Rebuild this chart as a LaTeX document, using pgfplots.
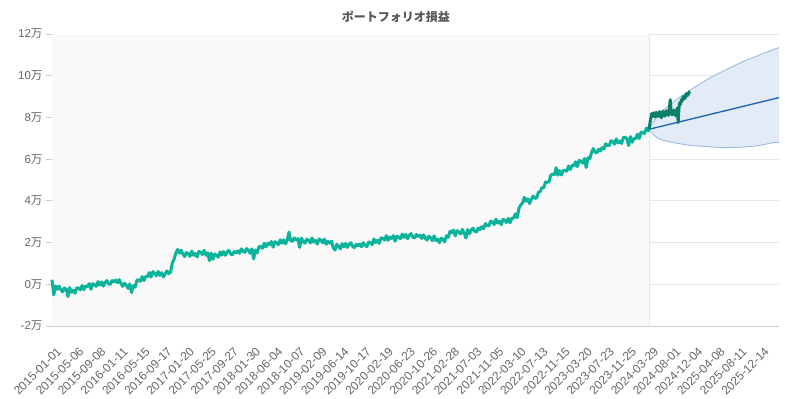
\documentclass[border=0pt]{standalone}
\usepackage{pgfplots}
\pgfplotsset{compat=1.18}
\usepackage{pgfplotstable}
\usepackage{fontspec}
\setmainfont{Liberation Sans}
\newfontfamily\cjk{Noto Sans CJK JP}
\newcommand\man{{\cjk 万}}
\definecolor{histc}{HTML}{0CB39B}
\definecolor{realc}{HTML}{0B8068}
\definecolor{meanc}{HTML}{1A62B3}
\definecolor{bandf}{HTML}{E3EBF6}
\definecolor{bande}{HTML}{9ABCE0}
\definecolor{gridc}{HTML}{E6E6E6}
\definecolor{axc}{HTML}{CCCCCC}
\definecolor{txt}{HTML}{666666}
\definecolor{bgc}{HTML}{F9F9F9}

\pgfplotstableread{
x y
0 0.22
10 -0.51
20 -0.08
30 -0.24
40 -0.09
50 -0.26
60 -0.36
70 -0.18
80 -0.24
90 -0.59
100 -0.16
110 -0.38
120 -0.28
130 -0.43
140 -0.17
150 -0.18
160 -0.27
170 -0.06
180 -0.26
190 -0.08
200 -0.12
210 0.03
220 -0.24
230 0.03
240 -0.02
250 -0.10
260 0.13
270 -0.04
280 0.11
290 -0.09
300 0.09
310 0.18
320 0.02
330 0.00
340 0.18
350 0.11
360 0.20
370 0.08
380 0.22
390 0.03
400 -0.10
410 0.05
420 -0.04
430 -0.20
440 0.02
450 -0.40
460 -0.06
470 -0.14
480 0.19
490 0.22
500 0.14
510 0.37
520 0.18
530 0.38
540 0.37
550 0.56
560 0.34
570 0.61
580 0.53
590 0.41
600 0.61
610 0.43
620 0.56
630 0.35
640 0.51
650 0.64
660 0.51
670 0.58
680 1.01
690 1.20
700 1.49
710 1.67
720 1.49
730 1.63
740 1.45
750 1.33
760 1.52
770 1.47
780 1.34
790 1.59
800 1.39
810 1.47
820 1.31
830 1.57
840 1.54
850 1.43
860 1.63
870 1.39
880 1.51
890 1.13
900 1.49
910 1.20
920 1.45
930 1.39
940 1.30
950 1.55
960 1.40
970 1.57
980 1.39
990 1.55
1000 1.62
1010 1.45
1020 1.41
1030 1.57
1040 1.50
1050 1.60
1060 1.49
1070 1.70
1080 1.58
1090 1.53
1100 1.71
1110 1.64
1120 1.49
1130 1.70
1140 1.22
1150 1.64
1160 1.51
1170 1.80
1180 1.81
1190 1.73
1200 1.97
1210 1.79
1220 1.97
1230 1.91
1240 2.05
1250 1.78
1260 2.04
1270 1.99
1280 1.90
1290 2.13
1300 1.97
1310 2.13
1320 1.94
1330 2.12
1340 2.51
1350 2.08
1360 2.06
1370 2.22
1380 2.12
1390 2.19
1400 1.77
1410 2.21
1420 2.06
1430 1.97
1440 2.16
1450 2.11
1460 1.98
1470 2.22
1480 2.02
1490 2.10
1500 1.93
1510 2.17
1520 2.12
1530 1.99
1540 2.16
1550 1.92
1560 2.06
1570 1.97
1580 2.07
1590 1.75
1600 1.64
1610 1.92
1620 1.82
1630 1.70
1640 1.95
1650 1.80
1660 1.96
1670 1.77
1680 1.92
1690 1.99
1700 1.81
1710 1.76
1720 1.92
1730 1.84
1740 1.93
1750 1.80
1760 1.99
1770 1.87
1780 1.80
1790 2.03
1800 2.00
1810 1.90
1820 2.17
1830 2.00
1840 2.11
1850 1.96
1860 2.23
1870 2.21
1880 2.12
1890 2.33
1900 2.11
1910 2.26
1920 2.20
1930 2.33
1940 2.06
1950 2.31
1960 2.26
1970 2.18
1980 2.41
1990 2.25
2000 2.39
2010 2.19
2020 2.35
2030 2.43
2040 2.26
2050 2.22
2060 2.39
2070 2.29
2080 2.35
2090 2.20
2100 2.37
2110 2.21
2120 2.12
2130 2.30
2140 2.24
2150 2.09
2160 2.32
2170 2.10
2180 2.17
2190 1.99
2200 2.21
2210 2.16
2220 2.03
2230 2.33
2240 2.25
2250 2.54
2260 2.47
2270 2.60
2280 2.32
2290 2.57
2300 2.51
2310 2.41
2320 2.63
2330 2.46
2340 2.22
2350 2.62
2360 2.42
2370 2.60
2380 2.69
2390 2.54
2400 2.51
2410 2.70
2420 2.63
2430 2.76
2440 2.67
2450 2.91
2460 2.82
2470 2.80
2480 3.03
2490 2.99
2500 2.87
2510 3.12
2520 2.93
2530 3.02
2540 2.86
2550 3.11
2560 3.08
2570 2.96
2580 3.16
2590 2.95
2600 3.17
2610 3.18
2620 3.38
2630 3.19
2640 3.65
2650 3.80
2660 3.90
2670 4.17
2680 3.98
2690 4.10
2700 3.87
2710 4.08
2720 4.23
2730 4.12
2740 4.14
2750 4.41
2760 4.44
2770 4.64
2780 4.62
2790 4.91
2800 4.89
2810 4.92
2820 5.23
2830 5.28
2840 5.25
2850 5.59
2860 5.23
2870 5.45
2880 5.24
2890 5.45
2900 5.47
2910 5.42
2920 5.67
2930 5.50
2940 5.70
2950 5.69
2960 5.87
2970 5.64
2980 5.94
2990 5.91
3000 5.81
3010 6.03
3020 5.60
3030 6.07
3040 6.01
3050 6.31
3060 6.51
3070 6.34
3080 6.30
3090 6.47
3100 6.39
3110 6.55
3120 6.48
3130 6.73
3140 6.66
3150 6.65
3160 6.88
3170 6.84
3180 6.72
3190 6.97
3200 6.78
3210 6.87
3220 6.75
3230 7.04
3240 7.05
3250 6.98
3260 6.65
3270 7.08
3280 6.81
3290 6.99
3300 6.99
3310 7.20
3320 6.99
3330 7.30
3340 7.28
3350 7.23
3360 7.49
3370 7.36
3375 7.43
}\histtab

\pgfplotstableread{
x y
3375 7.43
3380 7.70
3385 7.95
3390 8.18
3395 8.05
3400 8.22
3405 8.10
3410 8.02
3415 8.25
3420 8.12
3425 8.05
3430 8.20
3435 8.28
3440 8.08
3445 7.98
3450 8.22
3455 8.30
3460 8.12
3465 8.06
3470 8.26
3475 8.32
3480 8.15
3485 8.10
3490 8.40
3495 8.85
3500 8.30
3505 8.12
3510 8.22
3515 8.35
3520 8.18
3525 8.08
3530 8.30
3535 8.45
3540 7.75
3544 8.40
3548 8.70
3553 8.62
3558 8.85
3563 8.80
3568 9.00
3573 8.95
3578 8.90
3583 9.08
3588 9.15
3593 9.05
3598 9.12
3603 9.22
3607 9.25
}\realtab

\pgfplotstableread{
x y
3375 7.43
3409 7.90
3437 8.20
3466 8.42
3494 8.60
3540 8.92
3590 9.20
3650 9.55
3720 9.90
3785 10.18
3850 10.45
3925 10.75
4002 11.00
4060 11.20
4110 11.35
}\uptab

\pgfplotstableread{
x y
3375 7.43
3381 7.35
3410 7.10
3437 6.95
3511 6.79
3607 6.66
3703 6.60
3793 6.55
3889 6.57
3985 6.63
4076 6.79
4110 6.80
}\lowtab

\begin{document}
\begin{tikzpicture}
\path[use as bounding box] (-52pt,-73pt) rectangle (733pt,326pt);
\begin{axis}[
  at={(0pt,0pt)}, anchor=south west,
  scale only axis, width=727pt, height=292pt,
  xmin=0, xmax=4110, ymin=-2, ymax=12,
  axis x line*=bottom, axis y line*=left,
  axis line style={draw=axc, -},
  ymajorgrids, grid style={draw=gridc, line width=0.8pt},
  ytick={-2,0,2,4,6,8,10,12},
  yticklabels={-2\man,0\man,2\man,4\man,6\man,8\man,10\man,12\man},
  xtick={0,125,...,4000},
  xticklabels={2015-01-01,2015-05-06,2015-09-08,2016-01-11,2016-05-15,2016-09-17,2017-01-20,2017-05-25,2017-09-27,2018-01-30,2018-06-04,2018-10-07,2019-02-09,2019-06-14,2019-10-17,2020-02-19,2020-06-23,2020-10-26,2021-02-28,2021-07-03,2021-11-05,2022-03-10,2022-07-13,2022-11-15,2023-03-20,2023-07-23,2023-11-25,2024-03-29,2024-08-01,2024-12-04,2025-04-08,2025-08-11,2025-12-14},
  x tick label style={rotate=45, anchor=north east, font=\fontsize{12}{14}\selectfont, text=txt, inner sep=1pt, yshift=-12pt, xshift=-6pt},
  y tick label style={font=\fontsize{11.5}{13}\selectfont, text=txt},
  xtick style={draw=none},
  ytick style={draw=axc, line width=0.8pt},
  tick align=outside, major tick length=6pt,
  title={\cjk\bfseries ポートフォリオ損益},
  title style={at={(0.473,1)}, anchor=south, font=\fontsize{12}{14}\selectfont, text=txt!85!black, yshift=2pt},
  clip=false,
]
\addplot[fill=bgc, draw=none] coordinates {(0,-2) (3375,-2) (3375,12) (0,12)} -- cycle;
\addplot[draw=gridc, line width=0.8pt] coordinates {(3375,-2) (3375,12)};
\addplot[fill=bandf, draw=none] coordinates {
(3375,7.43) (3409,7.90) (3437,8.20) (3466,8.42) (3494,8.60) (3540,8.92) (3590,9.20) (3650,9.55) (3720,9.90) (3785,10.18) (3850,10.45) (3925,10.75) (4002,11.00) (4060,11.20) (4110,11.35)
(4110,6.80) (4076,6.79) (3985,6.63) (3889,6.57) (3793,6.55) (3703,6.60) (3607,6.66) (3511,6.79) (3437,6.95) (3410,7.10) (3381,7.35)} -- cycle;
\addplot[draw=bande, line width=0.9pt] table {\uptab};
\addplot[draw=bande, line width=0.9pt] table {\lowtab};
\addplot[draw=meanc, line width=1.3pt] coordinates {(3375,7.43) (4110,8.95)};
\addplot[draw=histc, line width=3pt, line join=round] table {\histtab};
\addplot[draw=realc, line width=3pt, line join=round] table {\realtab};
\end{axis}
\end{tikzpicture}
\end{document}
